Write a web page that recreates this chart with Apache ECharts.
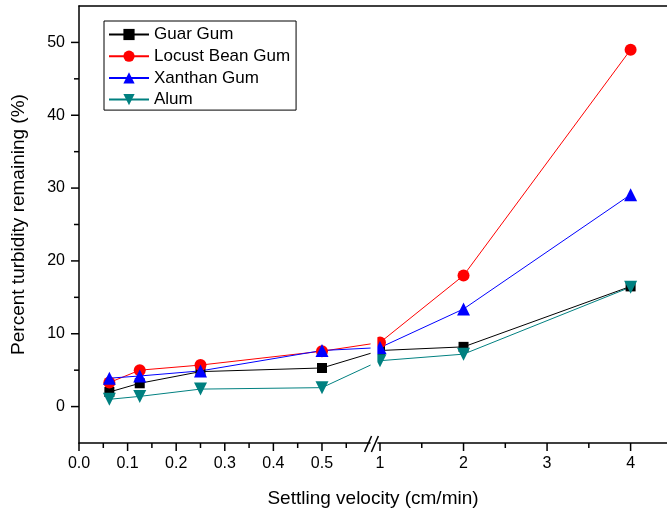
<!DOCTYPE html>
<html>
<head>
<meta charset="utf-8">
<script src="https://cdn.jsdelivr.net/npm/echarts@6/dist/echarts.min.js"></script>
<style>
  html, body { margin: 0; background: #fff; }
  #chart { width: 667px; height: 518px; }
</style>
</head>
<body>
<div id="chart"></div>
<script>
// settling velocity (cm/min)
var velocities = [0.0625, 0.125, 0.25, 0.5, 1, 2, 4]
// percent turbidity remaining (%)
var guarGum = [2.0, 3.2, 4.8, 5.3, 7.7, 8.2, 16.5]
var locustBeanGum = [3.3, 5.0, 5.7, 7.6, 8.8, 18.0, 49.0]
var xanthanGum = [3.9, 4.2, 4.9, 7.7, 8.1, 13.4, 29.1]
var alum = [1.0, 1.4, 2.4, 2.6, 6.3, 7.2, 16.4]

var xMajorTicks = [0, 0.1, 0.2, 0.3, 0.4, 0.5, 1, 2, 3, 4]
var xMinorTicks = [0.05, 0.15, 0.25, 0.35, 0.45, 0.55, 1.5, 2.5, 3.5]
var yMajorTicks = [0, 10, 20, 30, 40, 50]
var yMinorTicks = [5, 15, 25, 35, 45]

// broken x axis: 0 - 0.6 on a wide scale, 1 - 4 on a narrow one
var BREAK_START = 0.6
var BREAK_END = 0.614
var RIGHT_ORIGIN = 0.6194
var RIGHT_SCALE = 0.1719
var X_MAX = 1.21

function toAxis(v) {
  return v <= BREAK_START ? v : RIGHT_ORIGIN + (v - 1) * RIGHT_SCALE
}

function tickLabel(u) {
  for (var i = 0; i < xMajorTicks.length; i++) {
    var v = xMajorTicks[i]
    if (Math.abs(toAxis(v) - u) < 1e-6) {
      return v < 1 ? v.toFixed(1) : String(v)
    }
  }
  return ''
}

function points(values) {
  return velocities.map(function(v, i) { return [toAxis(v), values[i]] })
}

var FONT = "'Liberation Sans', Arial, sans-serif"

var chart = echarts.init(document.getElementById('chart'))

function makeSeries(name, values, color, symbol, size, rotate) {
  return {
    name: name,
    type: 'line',
    data: points(values),
    symbol: symbol,
    symbolSize: size,
    symbolRotate: rotate || 0,
    showAllSymbol: true,
    clip: true,
    lineStyle: { color: color, width: 1 },
    itemStyle: { color: color },
    emphasis: { disabled: true }
  }
}

chart.setOption({
  animation: false,
  grid: { left: 79, top: 6, right: -2, bottom: 75 },
  legend: {
    orient: 'vertical',
    left: 104,
    top: 21,
    padding: [5, 6, 2, 4],
    borderColor: '#000',
    borderWidth: 1,
    itemWidth: 40,
    itemHeight: 14,
    itemGap: 4.7,
    textStyle: { fontSize: 17, color: '#000', fontFamily: FONT },
    data: ['Guar Gum', 'Locust Bean Gum', 'Xanthan Gum', 'Alum']
  },
  xAxis: [
    {
      type: 'value',
      min: 0,
      max: X_MAX,
      position: 'bottom',
      name: 'Settling velocity (cm/min)',
      nameLocation: 'middle',
      nameGap: 46,
      nameTextStyle: { fontSize: 19, color: '#000', fontFamily: FONT },
      axisLine: { show: true, onZero: false, lineStyle: { color: '#000', width: 1.5 } },
      axisTick: { show: false },
      axisLabel: {
        margin: 13, fontSize: 16, color: '#000', fontFamily: FONT,
        customValues: xMajorTicks.map(toAxis),
        formatter: tickLabel
      },
      splitLine: { show: false }
    },
    {
      type: 'value', min: 0, max: X_MAX, position: 'top',
      axisLine: { show: true, onZero: false, lineStyle: { color: '#000', width: 1.5 } },
      axisTick: { show: false },
      axisLabel: { show: false },
      splitLine: { show: false }
    }
  ],
  yAxis: [
    {
      type: 'value',
      min: -5,
      max: 55,
      position: 'left',
      name: 'Percent turbidity remaining (%)',
      nameLocation: 'middle',
      nameGap: 51,
      nameTextStyle: { fontSize: 19, color: '#000', fontFamily: FONT },
      axisLine: { show: true, onZero: false, lineStyle: { color: '#000', width: 1.5 } },
      axisTick: { show: false },
      axisLabel: {
        margin: 14, fontSize: 16, color: '#000', fontFamily: FONT,
        customValues: yMajorTicks.slice()
      },
      splitLine: { show: false }
    }
  ],
  series: [
    makeSeries('Guar Gum', guarGum, '#000000', 'rect', 10),
    makeSeries('Locust Bean Gum', locustBeanGum, '#ff0000', 'circle', 12),
    makeSeries('Xanthan Gum', xanthanGum, '#0000ff', 'triangle', 13),
    makeSeries('Alum', alum, '#008080', 'triangle', 13, 180)
  ]
})

// tick marks and break marks, placed with the axes' own scales
var x0 = chart.convertToPixel({ xAxisIndex: 0 }, BREAK_START)
var x1 = chart.convertToPixel({ xAxisIndex: 0 }, BREAK_END)
var xLeft = chart.convertToPixel({ xAxisIndex: 0 }, 0)
var yTop = chart.convertToPixel({ yAxisIndex: 0 }, 55)
var yBot = chart.convertToPixel({ yAxisIndex: 0 }, -5)

var tickStyle = { stroke: '#000', lineWidth: 1.5 }
var graphics = []

function xTick(v, len) {
  var px = chart.convertToPixel({ xAxisIndex: 0 }, toAxis(v))
  graphics.push({ type: 'line', z: 101, shape: { x1: px, y1: yBot, x2: px, y2: yBot + len }, style: tickStyle })
}
function yTick(v, len) {
  var py = chart.convertToPixel({ yAxisIndex: 0 }, v)
  graphics.push({ type: 'line', z: 101, shape: { x1: xLeft - len, y1: py, x2: xLeft, y2: py }, style: tickStyle })
}
xMajorTicks.forEach(function(v) { xTick(v, 8) })
xMinorTicks.forEach(function(v) { xTick(v, 5) })
yMajorTicks.forEach(function(v) { yTick(v, 8) })
yMinorTicks.forEach(function(v) { yTick(v, 5) })

graphics.push(
  {
    type: 'rect', z: 100,
    shape: { x: x0, y: yTop + 1, width: x1 - x0, height: yBot - yTop + 1 },
    style: { fill: '#fff' }
  },
  {
    type: 'line', z: 101,
    shape: { x1: x0 - 6, y1: yBot + 9, x2: x0 + 1, y2: yBot - 7 },
    style: tickStyle
  },
  {
    type: 'line', z: 101,
    shape: { x1: x1 - 6, y1: yBot + 9, x2: x1 + 1, y2: yBot - 7 },
    style: tickStyle
  }
)

chart.setOption({ graphic: graphics })
</script>
</body>
</html>
